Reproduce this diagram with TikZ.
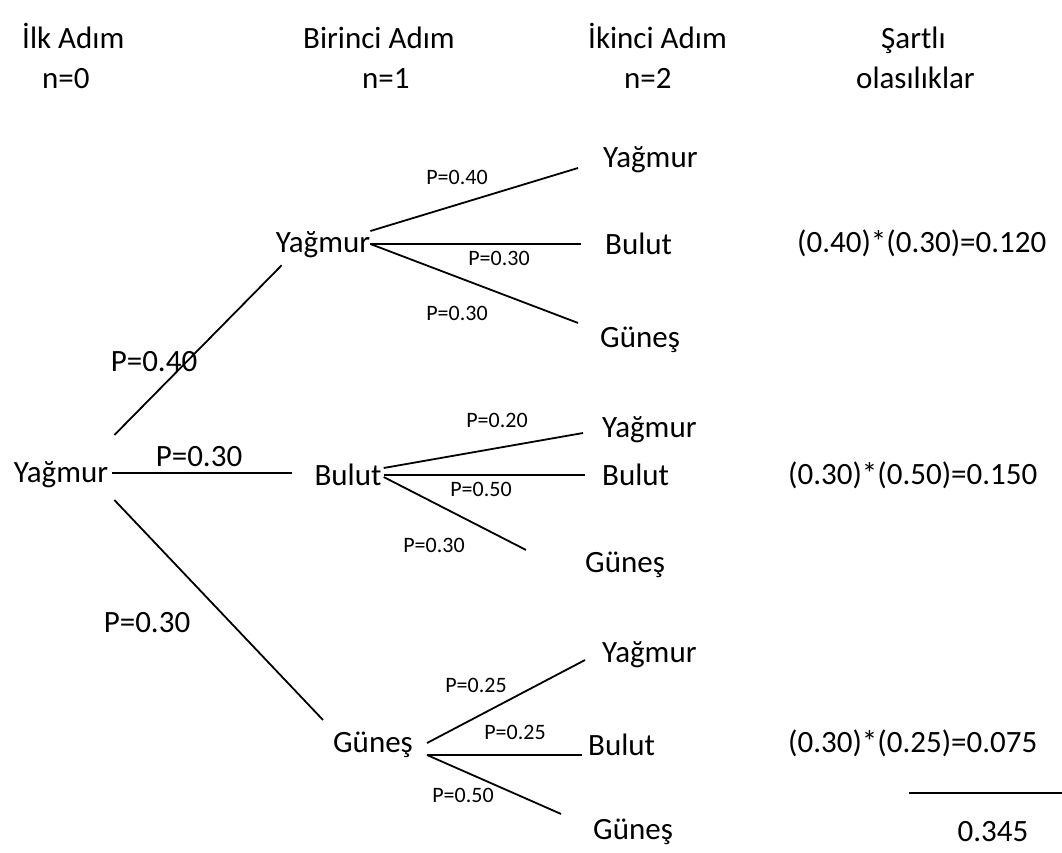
\documentclass[tikz,border=0pt]{standalone}
\usepackage{fontspec}
\setmainfont{Carlito}
\usetikzlibrary{positioning,calc}

\tikzset{
  state/.style={font=\fontsize{31}{37}\selectfont, inner sep=2pt},
  prob/.style={font=\fontsize{22}{26}\selectfont, inner sep=0pt},
  head/.style={font=\fontsize{31}{37}\selectfont, inner sep=0pt, anchor=base west},
  branch/.style={line width=1.8pt},
}

\begin{document}
\begin{tikzpicture}[x=1pt,y=-1pt]
\useasboundingbox (0,0) rectangle (1062,852);

% Column headers
\node[head] (h0) at (22,48) {İlk Adım};
\node[head] (n0) at (42,88) {n=0};
\node[head] (h1) at (303,48) {Birinci Adım};
\node[head] (n1) at (362,88) {n=1};
\node[head] (h2) at (588,48) {İkinci Adım};
\node[head] (n2) at (624,88) {n=2};
\node[head] (h3) at (881,48) {Şartlı};
\node[head] (n3) at (856,88) {olasılıklar};

% Initial step
\node[state] (r0) at (61,475) {Yağmur};

% First step
\node[state] (y1) at (323,245) {Yağmur};
\node[state] (b1) at (348,475) {Bulut};
\node[state] (g1) at (373,745) {Güneş};

\draw[branch] ($(r0.east)+(4,-40)$) -- ($(y1.south west)+(8,5)$);
\draw[branch] ($(r0.east)+(2,-2)$) -- ($(b1.west)+(-20,-2)$);
\draw[branch] ($(r0.east)+(4,25)$) -- ($(g1.north west)+(-8,-10)$);
\node[head, anchor=center] (p1) at (154,362) {P=0.40};
\node[head, anchor=center] (p2) at (199,457) {P=0.30};
\node[head, anchor=center] (p3) at (147,623) {P=0.30};

% Second step after Yagmur
\node[state, anchor=west] (yy) at (601,160) {Yağmur};
\node[state, anchor=west] (yb) at (603,244) {Bulut};
\node[state, anchor=west] (yg) at (598,340) {Güneş};
\draw[branch] ($(y1.east)+(-2,-14)$) -- ($(yy.west)+(-23,8)$);
\draw[branch] ($(y1.east)+(-2,-1)$) -- ($(yb.west)+(-22,0)$);
\draw[branch] ($(y1.east)+(-2,-1)$) -- ($(yg.north west)+(-20,-2)$);
\node[prob] at (457,177) {P=0.40};
\node[prob] at (499,258) {P=0.30};
\node[prob] at (457,313) {P=0.30};

% Second step after Bulut
\node[state, anchor=west] (by) at (600,430) {Yağmur};
\node[state, anchor=west] (bb) at (600,475) {Bulut};
\node[state, anchor=west] (bg) at (583,565) {Güneş};
\draw[branch] ($(b1.east)+(0,-7)$) -- ($(by.west)+(-17,3)$);
\draw[branch] ($(b1.east)+(0,0)$) -- ($(bb.west)+(-15,0)$);
\draw[branch] ($(b1.east)+(0,2)$) -- ($(bg.north west)+(-57,0)$);
\node[prob] at (497,420) {P=0.20};
\node[prob] at (481,489) {P=0.50};
\node[prob] at (434,545) {P=0.30};

% Second step after Gunes
\node[state, anchor=west] (gy) at (600,655) {Yağmur};
\node[state, anchor=west] (gb) at (586,745) {Bulut};
\node[state, anchor=west] (gg) at (591,832) {Güneş};
\draw[branch] ($(g1.east)+(12,-2)$) -- ($(gy.west)+(-15,5)$);
\draw[branch] ($(g1.east)+(12,10)$) -- ($(gb.west)+(-4,10)$);
\draw[branch] ($(g1.east)+(12,10)$) -- ($(gg.north west)+(-30,-3)$);
\node[prob] at (476,685) {P=0.25};
\node[prob] at (515,732) {P=0.25};
\node[prob] at (463,795) {P=0.50};

% Conditional probabilities
\node[head, anchor=west] (c1) at (797,243) {(0.40)*(0.30)=0.120};
\node[head, anchor=west] (c2) at (788,475) {(0.30)*(0.50)=0.150};
\node[head, anchor=west] (c3) at (788,743) {(0.30)*(0.25)=0.075};
\coordinate (sumL) at (909,793);
\coordinate (sumR) at (1062,793);
\draw[branch] (sumL) -- (sumR);
\node[head, anchor=center] (tot) at (993,832) {0.345};
\end{tikzpicture}
\end{document}
